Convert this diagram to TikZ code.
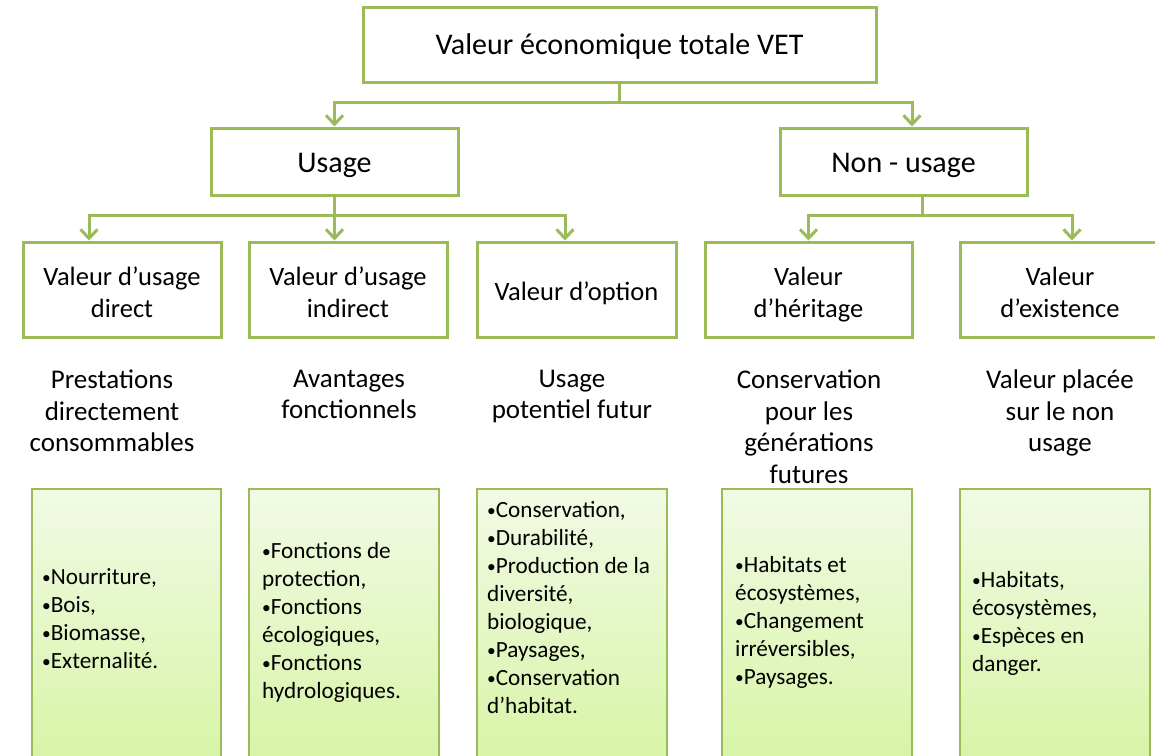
\documentclass[tikz,border=0pt]{standalone}
\usepackage{fontspec}
\setmainfont{Carlito}
\usetikzlibrary{arrows.meta}
\definecolor{gr}{HTML}{9BBB59}
\definecolor{gtop}{HTML}{F2FAE5}
\definecolor{gbot}{HTML}{D7F4A6}
\newcommand{\bul}{\raisebox{0.12ex}{\scalebox{0.75}{•}}}
\newcommand{\lowr}[2]{\raisebox{-#1}[\height][\depth]{#2}}
\begin{document}
\begin{tikzpicture}[x=1pt,y=-1pt,
  vbox/.style={draw=gr,line width=3pt,fill=white,inner sep=0pt,align=center},
  conn/.style={draw=gr,line width=3pt},
  arr/.style={conn,-{Straight Barb[length=9pt,width=17pt,line width=3pt]}},
  bigtxt/.style={font=\fontsize{30}{34}\selectfont},
  midtxt/.style={font=\fontsize{26.5}{32}\selectfont},
  desc/.style={inner sep=0pt,align=center,anchor=north,font=\fontsize{27}{31.7}\selectfont},
  gbox/.style={draw=gr,line width=1.3pt,top color=gtop,bottom color=gbot},
  gtxt/.style={inner sep=0pt,align=left,anchor=north west,font=\fontsize{23.2}{28}\selectfont}]
\useasboundingbox (0,0) rectangle (1155,755);
% top
\node[vbox,bigtxt,minimum width=513pt,minimum height=75pt] (top) at (619.5,44.5) {\lowr{2pt}{Valeur économique totale VET}};
\node[vbox,bigtxt,minimum width=247pt,minimum height=67pt] (usage) at (334.5,161.5) {\lowr{4pt}{Usage}};
\node[vbox,bigtxt,minimum width=247pt,minimum height=67pt] (nonusage) at (903.5,161.5) {\lowr{4pt}{Non - usage}};
% level 3
\node[vbox,midtxt,minimum width=198pt,minimum height=95pt] (A) at (122,289.5) {\lowr{5.5pt}{\begin{tabular}{@{}c@{}}Valeur d’usage\\direct\end{tabular}}};
\node[vbox,midtxt,minimum width=198pt,minimum height=95pt] (B) at (348,289.5) {\lowr{5.5pt}{\begin{tabular}{@{}c@{}}Valeur d’usage\\indirect\end{tabular}}};
\node[vbox,midtxt,minimum width=199pt,minimum height=95pt] (C) at (576.5,289.5) {\lowr{4pt}{Valeur d’option}};
\node[vbox,midtxt,minimum width=207pt,minimum height=95pt] (D) at (808.5,289.5) {\lowr{6pt}{\begin{tabular}{@{}c@{}}Valeur\\d’héritage\end{tabular}}};
\node[vbox,midtxt,minimum width=200pt,minimum height=95pt] (E) at (1060,289.5) {\lowr{6pt}{\begin{tabular}{@{}c@{}}Valeur\\d’existence\end{tabular}}};
% connectors
\draw[arr] (top.south) -- ++(0,18.5) -| (usage.north);
\draw[arr] (top.south) -- ++(0,18.5) -| ([xshift=8.5pt]nonusage.north);
\draw[arr] (usage.south) -- ++(0,19) -| ([xshift=-33pt]A.north);
\draw[arr] (usage.south) -- (usage.south |- B.north);
\draw[arr] (usage.south) -- ++(0,19) -| ([xshift=-11.5pt]C.north);
\draw[arr] ([xshift=18.5pt]nonusage.south) -- ++(0,19) -| (D.north);
\draw[arr] ([xshift=18.5pt]nonusage.south) -- ++(0,19) -| ([xshift=12pt]E.north);
% descriptions
\node[desc] (dA) at (112,369.5) {Prestations\\directement\\consommables};
\node[desc] (dB) at (349,369.5) {Avantages\\fonctionnels};
\node[desc] (dC) at (572,369.5) {Usage\\potentiel futur};
\node[desc] (dD) at (809,369.5) {Conservation\\pour les\\générations\\futures};
\node[desc] (dE) at (1060,369.5) {Valeur placée\\sur le non\\usage};
% green boxes
\draw[gbox] (32,489) rectangle (221,762);
\draw[gbox] (249,489) rectangle (439,762);
\draw[gbox] (477,489) rectangle (667,762);
\draw[gbox] (722,489) rectangle (912,762);
\draw[gbox] (960,489) rectangle (1150,762);
\node[gtxt] (gA) at (42,568.5) {\bul Nourriture,\\\bul Bois,\\\bul Biomasse,\\\bul Externalité.};
\node[gtxt] (gB) at (262,542.5) {\bul Fonctions de\\protection,\\\bul Fonctions\\écologiques,\\\bul Fonctions\\hydrologiques.};
\node[gtxt] (gC) at (487,501.5) {\bul Conservation,\\\bul Durabilité,\\\bul Production de la\\diversité,\\biologique,\\\bul Paysages,\\\bul Conservation\\d’habitat.};
\node[gtxt] (gD) at (735,556.5) {\bul Habitats et\\écosystèmes,\\\bul Changement\\irréversibles,\\\bul Paysages.};
\node[gtxt] (gE) at (972,571.5) {\bul Habitats,\\écosystèmes,\\\bul Espèces en\\danger.};
\end{tikzpicture}
\end{document}
